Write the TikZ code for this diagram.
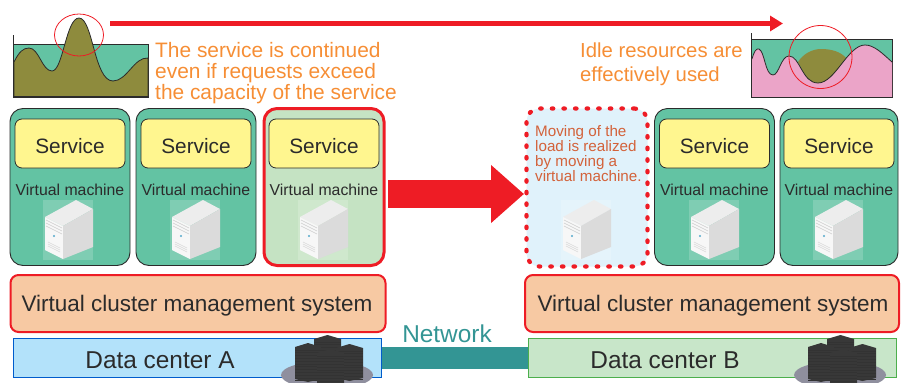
\documentclass[tikz,border=0pt]{standalone}
\usepackage{fontspec}
\setmainfont{Liberation Sans}
\usetikzlibrary{arrows.meta}
\definecolor{vmgreen}{HTML}{63C3A3}
\definecolor{vmpale}{HTML}{C5E3C3}
\definecolor{svcyellow}{HTML}{FFF68F}
\definecolor{redline}{HTML}{EE1C25}
\definecolor{peach}{HTML}{F7C9A3}
\definecolor{olive}{HTML}{8E8B3D}
\definecolor{pinkc}{HTML}{EBA4C8}
\definecolor{orangetxt}{HTML}{F68E35}
\definecolor{movetxt}{HTML}{D3623A}
\definecolor{netteal}{HTML}{339594}
\definecolor{moveblue}{HTML}{E0F2FB}
\definecolor{dcblue}{HTML}{B3E2FA}
\definecolor{dcgreen}{HTML}{C8E6C9}
\definecolor{ink}{HTML}{2B2B2B}
\definecolor{plate}{HTML}{8F8F9E}
\tikzset{
  vmbox/.style={draw=ink,line width=0.9pt,rounded corners=13pt,fill=vmgreen,minimum height=157pt,inner sep=0pt},
  vmred/.style={draw=redline,line width=3pt,rounded corners=13pt,fill=vmpale,minimum height=157pt,inner sep=0pt},
  vmmove/.style={draw=redline,line width=4.2pt,line cap=round,dash pattern=on 1.5pt off 10.1pt,rounded corners=13pt,fill=moveblue,minimum width=121pt,minimum height=158pt,inner sep=0pt},
  svcbox/.style={draw=ink,line width=0.8pt,rounded corners=7pt,fill=svcyellow,minimum height=49pt,inner sep=0pt},
  svctext/.style={text=ink,font=\fontsize{20.8}{24}\selectfont,inner sep=0pt},
  vmlabel/.style={text=ink,font=\fontsize{15.8}{18}\selectfont,inner sep=0pt},
  mgmt/.style={draw=redline,line width=2pt,rounded corners=8pt,fill=peach,minimum height=57pt,inner sep=0pt},
  mgmttext/.style={text=ink,font=\fontsize{22.5}{26}\selectfont,inner sep=0pt},
  dcbox/.style={line width=1pt,minimum height=39pt,inner sep=0pt},
  biglabel/.style={font=\fontsize{24.4}{28}\selectfont,inner sep=0pt},
  note/.style={text=orangetxt,align=left,anchor=north west,inner sep=0pt},
  circ/.style={draw=redline,line width=0.8pt},
  pics/server/.style={code={
    \fill[white,opacity=.18] (-25,13) rectangle (25,73);
    \fill[gray!14] (-23,30) -- (8,13) -- (25,22) -- (-5,39) -- cycle;
    \fill[gray!6] (-23,30) -- (-5,39) -- (-5,72) -- (-23,63) -- cycle;
    \fill[gray!28] (-5,39) -- (25,22) -- (25,60) -- (-5,72) -- cycle;
    \foreach \d in {0,3,6}{\draw[gray!40,line width=.6pt] (-22,33+\d) -- (-6,41+\d);}
    \fill[cyan!60!gray] (-14,49) circle (1.2);
    \foreach \d in {0,2,4}{\draw[gray!30,line width=.6pt] (-20,55+\d) -- (-8,61+\d);}
  }},
  pics/towers/.style={code={
    \fill[plate] (0,37) ellipse [x radius=46, y radius=14];
    \foreach \a/\b/\t/\h in {-13/14/-3/30, 9/36/6/34, -32/-6/5/36, -10/17/11/44}{
      \fill[black!78] (\a,\t+4) -- ({(\a+\b)/2},\t) -- (\b,\t+4) -- (\b,\t+\h) -- ({(\a+\b)/2},\t+\h+3) -- (\a,\t+\h) -- cycle;
      \pgfmathsetmacro{\nn}{int(\h/3)}
      \foreach \k in {1,...,\nn}{\draw[gray!40!black,line width=.4pt] (\a,{\t+4+\k*2.8}) -- (\b,{\t+4+\k*2.8});}
    }
  }}
}
\begin{document}
\begin{tikzpicture}[x=1pt,y=-1pt]
\useasboundingbox (0,0) rectangle (906,383);
% top arrow
\coordinate (ta) at (110,23.5); \coordinate (tb) at (783,23.5);
\draw[redline,line width=4.6pt,-{Triangle[length=13pt,width=15pt]}] (ta) -- (tb);
% left chart
\fill[vmgreen] (14,44) rectangle (148,97);
\draw[ink,line width=.8pt] (14,44) -- (148,44) -- (148,97);
\draw[ink,line width=.8pt,fill=olive] (14,62) .. controls (19,52) and (23,48) .. (29,48)
  .. controls (39,48) and (42,71) .. (52,71)
  .. controls (63,71) and (66,18) .. (79,18)
  .. controls (93,18) and (94,81) .. (113,81)
  .. controls (127,81) and (134,57) .. (148,58) -- (148,97) -- (14,97) -- cycle;
\draw[ink,line width=1.8pt] (13.5,35) -- (13.5,97.3) -- (149,97.3);
\draw[circ] (79,35) ellipse [x radius=24.5, y radius=21];
\node[note,font=\fontsize{20.9}{21.3}\selectfont] (n1) at (155,42) {The service is continued\\even if requests exceed\\the capacity of the service};
% right chart
\fill[vmgreen] (752,39) rectangle (892,97);
\draw[ink,line width=.8pt] (752,39) -- (892,39) -- (892,97);
\fill[pinkc] (752,59) .. controls (754,52) and (756,48) .. (759,49)
  .. controls (765,52) and (765,75) .. (773,75)
  .. controls (779,75) and (781,56) .. (789,56)
  .. controls (800,56) and (802,83) .. (818,83)
  .. controls (835,83) and (848,45) .. (865,45)
  .. controls (874,45) and (882,53) .. (892,62) -- (892,97) -- (752,97) -- cycle;
\fill[olive] (798,62) .. controls (803,54) and (812,49) .. (821,49)
  .. controls (832,49) and (841,52) .. (846,58)
  .. controls (836,72) and (828,83) .. (818,83)
  .. controls (806,83) and (803,70) .. (798,62) -- cycle;
\draw[ink,line width=.8pt] (752,59) .. controls (754,52) and (756,48) .. (759,49)
  .. controls (765,52) and (765,75) .. (773,75)
  .. controls (779,75) and (781,56) .. (789,56)
  .. controls (800,56) and (802,83) .. (818,83)
  .. controls (835,83) and (848,45) .. (865,45)
  .. controls (874,45) and (882,53) .. (892,62);
\draw[ink,line width=1.8pt] (751.5,33) -- (751.5,97.5) -- (892.5,97.5);
\draw[circ] (820.5,57) circle (31.5);
\node[note,font=\fontsize{20.3}{23.6}\selectfont] (n2) at (580,43) {Idle resources are\\effectively used};
% VM boxes
\node[vmbox,minimum width=120pt] (vm1) at (70,187) {};
\node[vmbox,minimum width=120pt] (vm2) at (196,187) {};
\node[vmred,minimum width=120pt] (vm3) at (324,187) {};
\node[vmmove] (vmm) at (587,187.5) {};
\node[vmbox,minimum width=120pt] (vm4) at (714.5,187) {};
\node[vmbox,minimum width=118pt] (vm5) at (839,187) {};
\foreach \n/\x in {1/70,2/196,3/324,4/714.5,5/839}{
  \node[svcbox,minimum width=110pt] (s\n) at (\x,143.5) {};
  \node[svctext] (t\n) at (\x,146) {Service};
  \node[vmlabel] (l\n) at (\x,189.5) {Virtual machine};
}
\foreach \x in {68,195,323,714,838}{ \pic at (\x,187) {server}; }
\pic at (586,187) {server};
\node[text=movetxt,align=left,anchor=north west,inner sep=0pt,font=\fontsize{15.2}{15}\selectfont] (mv) at (535,125) {Moving of the\\load is realized\\by moving a\\virtual machine.};
% big arrow
\coordinate (ba) at (388,194); \coordinate (bb) at (524,194);
\draw[redline,line width=28pt,-{Triangle[length=33pt,width=56pt]}] (ba) -- (bb);
% management
\node[mgmt,minimum width=375pt] (m1) at (198,303.5) {};
\node[mgmttext] (mt1) at (197,306) {Virtual cluster management system};
\node[mgmt,minimum width=374pt] (m2) at (712,303.5) {};
\node[mgmttext] (mt2) at (713,306) {Virtual cluster management system};
% network
\node[dcbox,draw=blue!55!cyan!80!black,fill=dcblue,minimum width=368pt] (a) at (197,357.5) {};
\node[dcbox,draw=green!55!black!70,fill=dcgreen,minimum width=368pt] (b) at (712.5,357.5) {};
\draw[netteal,line width=22pt] (a.east) -- (b.west);
\node[text=ink,biglabel] (at) at (160,360) {Data center A};
\node[text=ink,biglabel] (bt) at (665,360) {Data center B};
\node[text=netteal,biglabel] (nt) at (447,333.5) {Network};
\pic at (327,338) {towers};
\pic at (840,338) {towers};
\end{tikzpicture}
\end{document}
